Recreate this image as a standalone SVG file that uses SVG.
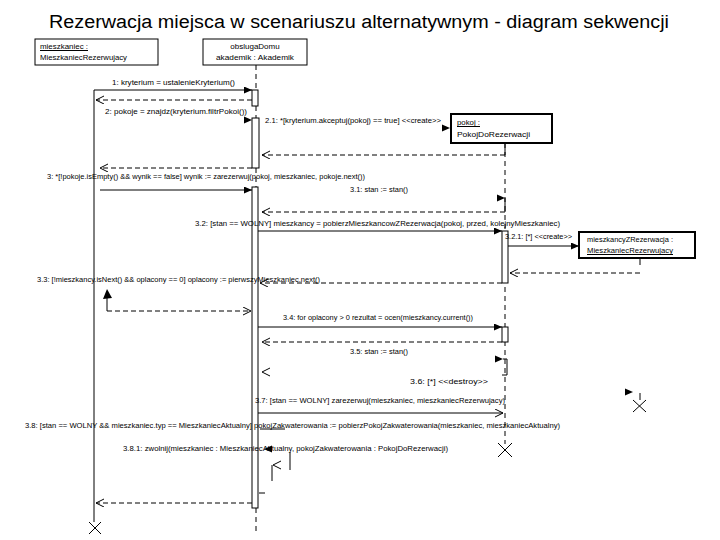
<svg xmlns="http://www.w3.org/2000/svg" width="720" height="540" viewBox="0 0 720 540">
<style>
.t{font-family:"Liberation Sans",Arial,sans-serif;font-size:7px;fill:#000}
.o{font-family:"Liberation Sans",Arial,sans-serif;font-size:8px;fill:#000}
.title{font-family:"Liberation Sans",Arial,sans-serif;font-size:18px;fill:#000}
.box{fill:#fff;stroke:#000;stroke-width:1}
.cbox{fill:#fff;stroke:#000;stroke-width:2}
.act{fill:#fff;stroke:#000;stroke-width:1}
.ln{stroke:#000;stroke-width:1;fill:none}
.ds{stroke:#000;stroke-width:1;fill:none;stroke-dasharray:5,3}
.ll{stroke:#000;stroke-width:1;fill:none;stroke-dasharray:5,4}
.hd{fill:#000;stroke:none}
.oh{fill:none;stroke:#000;stroke-width:1}
</style>
<defs>
<marker id="f" markerWidth="9" markerHeight="8" refX="8" refY="3.5" orient="auto" markerUnits="userSpaceOnUse"><path d="M0,0 L8,3.5 L0,7 z" fill="#000"/></marker>
<marker id="op" markerWidth="10" markerHeight="10" refX="8" refY="4" orient="auto" markerUnits="userSpaceOnUse"><path d="M0,0 L8,4 L0,8" fill="none" stroke="#000" stroke-width="1"/></marker>
</defs>
<rect width="720" height="540" fill="#fff"/>
<text class="title" x="49" y="28" textLength="620" lengthAdjust="spacingAndGlyphs">Rezerwacja miejsca w scenariuszu alternatywnym - diagram sekwencji</text>

<g id="lifelines">
<line class="ln" x1="94" y1="90" x2="94" y2="522"/>
<path class="ln" d="M89,522 L101,534 M101,522 L89,534"/>
<line class="ll" x1="256" y1="65" x2="256" y2="90"/>
<line class="ll" x1="256" y1="106" x2="256" y2="118"/>
<line class="ll" x1="256" y1="168" x2="256" y2="187"/>
<line class="ll" x1="256" y1="508" x2="256" y2="534"/>
<line class="ll" x1="505" y1="143" x2="505" y2="444"/>
<path class="ln" d="M498,443 L512,457 M512,443 L498,457"/>
<line class="ln" x1="640" y1="258" x2="640" y2="265"/>
<line class="ln" x1="640" y1="393" x2="640" y2="400"/>
<path class="ln" d="M633,400 L646,412 M646,400 L633,412"/>
</g>

<g id="obj-mieszkaniec">
<rect class="box" x="35" y="39" width="123" height="26"/>
<text class="o" x="40" y="49" textLength="48" lengthAdjust="spacingAndGlyphs">mieszkaniec :</text>
<line class="ln" x1="40" y1="50.5" x2="88" y2="50.5"/>
<text class="o" x="40" y="60" textLength="87" lengthAdjust="spacingAndGlyphs">MieszkaniecRezerwujacy</text>
</g>

<g id="obj-akademik">
<rect class="box" x="203" y="39" width="104" height="26"/>
<text class="o" x="255" y="49" text-anchor="middle">obslugaDomu</text>
<text class="o" x="255" y="60" text-anchor="middle" textLength="78" lengthAdjust="spacingAndGlyphs">akademik : Akademik</text>
</g>

<g id="obj-pokoj">
<rect class="cbox" x="451" y="114" width="101" height="29"/>
<text class="o" x="457" y="125" textLength="23" lengthAdjust="spacingAndGlyphs">pokoj :</text>
<line class="ln" x1="457" y1="126.5" x2="480" y2="126.5"/>
<text class="o" x="457" y="137" textLength="73" lengthAdjust="spacingAndGlyphs">PokojDoRezerwacji</text>
</g>

<g id="obj-mieszkancy">
<rect class="cbox" x="579" y="232" width="116" height="26"/>
<text class="o" x="587" y="242" textLength="86" lengthAdjust="spacingAndGlyphs">mieszkancyZRezerwacja :</text>
<text class="o" x="587" y="253" textLength="86" lengthAdjust="spacingAndGlyphs">MieszkaniecRezerwujacy</text>
<line class="ln" x1="587" y1="254.5" x2="673" y2="254.5"/>
</g>

<g id="activations">
<rect class="act" x="252" y="90" width="6" height="16"/>
<rect class="act" x="252" y="118" width="7" height="50"/>
<rect class="act" x="252" y="187" width="6" height="321"/>
<rect class="act" x="502" y="231" width="6" height="52"/>
<rect class="act" x="502" y="327" width="6" height="15"/>
</g>

<g id="connectors">
<line class="ln" x1="94" y1="90" x2="252" y2="90" marker-end="url(#f)"/>
<line class="ds" x1="252" y1="100" x2="96" y2="100" marker-end="url(#op)"/>
<polygon class="hd" points="244,116.5 252,120 244,123.5"/>
<polygon class="hd" points="442,124.5 450,128 442,131.5"/>
<line class="ln" x1="505" y1="143" x2="505" y2="155"/>
<line class="ds" x1="505" y1="155" x2="262" y2="155" marker-end="url(#op)"/>
<line class="ds" x1="252" y1="168" x2="100" y2="168" marker-end="url(#op)"/>
<line class="ln" x1="100" y1="190" x2="252" y2="190" marker-end="url(#f)"/>
<polygon class="hd" points="497,194.5 505,198 497,201.5"/>
<line class="ln" x1="505" y1="198" x2="505" y2="212"/>
<line class="ds" x1="505" y1="212" x2="262" y2="212" marker-end="url(#op)"/>
<line class="ln" x1="258" y1="231" x2="502" y2="231" marker-end="url(#f)"/>
<line class="ln" x1="508" y1="246" x2="579" y2="246" marker-end="url(#f)"/>
<line class="ds" x1="640" y1="273" x2="510" y2="273" marker-end="url(#op)"/>
<line class="ds" x1="502" y1="283" x2="260" y2="283" marker-end="url(#op)"/>
<polygon class="hd" points="103,299 107,289 112,298"/>
<line class="ln" x1="107" y1="297" x2="107" y2="311"/>
<line class="ds" x1="107" y1="311" x2="251" y2="311" marker-end="url(#op)"/>
<line class="ln" x1="258" y1="327" x2="502" y2="327" marker-end="url(#f)"/>
<line class="ds" x1="502" y1="342" x2="262" y2="342" marker-end="url(#op)"/>
<polygon class="hd" points="495,355.5 503,359 495,362.5"/>
<path class="ln" d="M503,359 L507,359 L507,375 L502,375"/>
<path class="oh" d="M270,368 L262,372 L270,376"/>
<polygon class="hd" points="625,388.5 633,392 625,395.5"/>
<line class="ln" x1="258" y1="413" x2="503" y2="413" marker-end="url(#op)"/>
<line class="ln" x1="260" y1="429" x2="285" y2="429"/>
<polygon class="hd" points="272,445.5 264,449 272,452.5"/>
<line class="ln" x1="290" y1="452" x2="290" y2="470"/>
<path class="oh" d="M281,461 L273,465 L281,469"/>
<line class="ln" x1="272" y1="465" x2="272" y2="481"/>
<line class="ln" x1="259" y1="493" x2="265" y2="493"/>
<line class="ds" x1="252" y1="503" x2="96" y2="503" marker-end="url(#op)"/>
</g>

<g id="labels">
<text class="t" x="112" y="85" textLength="123" lengthAdjust="spacingAndGlyphs">1: kryterium = ustalenieKryterium()</text>
<text class="t" x="105" y="114" textLength="142" lengthAdjust="spacingAndGlyphs">2: pokoje = znajdz(kryterium.filtrPokoi())</text>
<text class="t" x="265" y="123" textLength="176" lengthAdjust="spacingAndGlyphs">2.1: *[kryterium.akceptuj(pokoj) == true] &lt;&lt;create&gt;&gt;</text>
<text class="t" x="47" y="179" textLength="318" lengthAdjust="spacingAndGlyphs">3: *[!pokoje.isEmpty() &amp;&amp; wynik == false] wynik := zarezerwuj(pokoj, mieszkaniec, pokoje.next())</text>
<text class="t" x="350" y="192" textLength="58" lengthAdjust="spacingAndGlyphs">3.1: stan := stan()</text>
<text class="t" x="195" y="226" textLength="365" lengthAdjust="spacingAndGlyphs">3.2: [stan == WOLNY] mieszkancy = pobierzMieszkancowZRezerwacja(pokoj, przed, kolejnyMieszkaniec)</text>
<text class="t" x="505" y="239" textLength="67" lengthAdjust="spacingAndGlyphs">3.2.1: [*] &lt;&lt;create&gt;&gt;</text>
<text class="t" x="37" y="282" textLength="283" lengthAdjust="spacingAndGlyphs">3.3: [!mieszkancy.isNext() &amp;&amp; oplacony == 0] oplacony := pierwszyMieszkaniec.next()</text>
<text class="t" x="283" y="320" textLength="190" lengthAdjust="spacingAndGlyphs">3.4: for oplacony &gt; 0 rezultat = ocen(mieszkancy.current())</text>
<text class="t" x="350" y="354" textLength="58" lengthAdjust="spacingAndGlyphs">3.5: stan := stan()</text>
<text class="t" x="410" y="384" textLength="78" lengthAdjust="spacingAndGlyphs">3.6: [*] &lt;&lt;destroy&gt;&gt;</text>
<text class="t" x="255" y="403" textLength="250" lengthAdjust="spacingAndGlyphs">3.7: [stan == WOLNY] zarezerwuj(mieszkaniec, mieszkaniecRezerwujacy)</text>
<text class="t" x="25" y="428" textLength="535" lengthAdjust="spacingAndGlyphs">3.8: [stan == WOLNY &amp;&amp; mieszkaniec.typ == MieszkaniecAktualny] pokojZakwaterowania := pobierzPokojZakwaterowania(mieszkaniec, mieszkaniecAktualny)</text>
<text class="t" x="123" y="451" textLength="325" lengthAdjust="spacingAndGlyphs">3.8.1: zwolnij(mieszkaniec : MieszkaniecAktualny, pokojZakwaterowania : PokojDoRezerwacji)</text>
</g>
</svg>
